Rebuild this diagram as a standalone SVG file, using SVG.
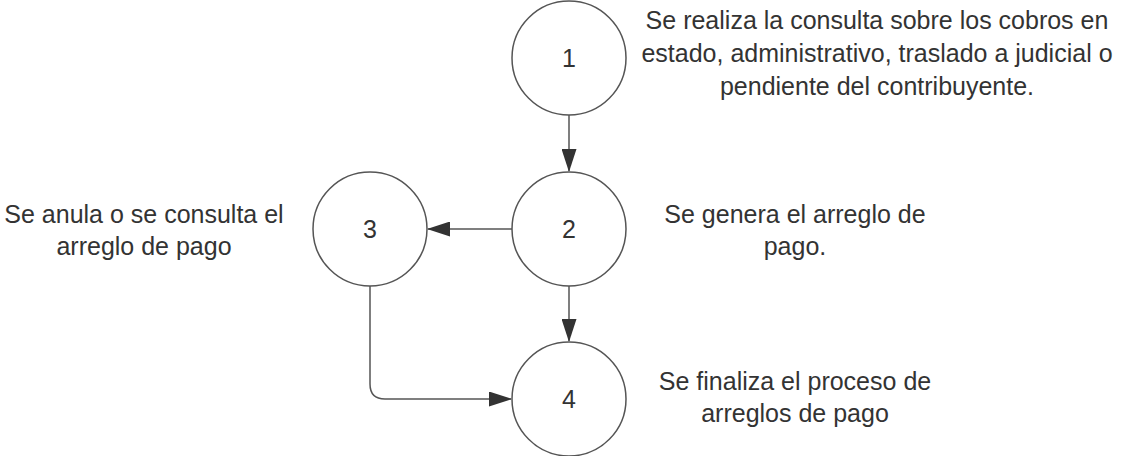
<svg xmlns="http://www.w3.org/2000/svg" width="1122" height="456" viewBox="0 0 1122 456">
<style>
.node{fill:#fff;stroke:#555;stroke-width:1.5}
.num{font-family:"Liberation Sans",Arial,sans-serif;font-size:25px;fill:#333;text-anchor:middle}
.lbl{font-family:"Liberation Sans",Arial,sans-serif;font-size:25px;fill:#333;text-anchor:middle}
.edge{fill:none;stroke:#555;stroke-width:1.5}
</style>
<defs>
<marker id="arr" markerWidth="23" markerHeight="15" refX="22" refY="7.5" orient="auto" markerUnits="userSpaceOnUse">
<path d="M0,0 L23,7.5 L0,15 Z" fill="#333"/>
</marker>
</defs>
<g id="connectors">
<path class="edge" d="M569,115 L569,171" marker-end="url(#arr)"/>
<path class="edge" d="M512,229 L428,229" marker-end="url(#arr)"/>
<path class="edge" d="M569,286 L569,341" marker-end="url(#arr)"/>
<path class="edge" d="M370,286 L370,384 Q370,399 385,399 L511,399" marker-end="url(#arr)"/>
</g>
<g id="node1">
<circle class="node" cx="569" cy="58" r="57"/>
<text class="num" x="569" y="67">1</text>
</g>
<g id="node2">
<circle class="node" cx="569" cy="229" r="57"/>
<text class="num" x="569" y="238">2</text>
</g>
<g id="node3">
<circle class="node" cx="370" cy="229" r="57"/>
<text class="num" x="370" y="238">3</text>
</g>
<g id="node4">
<circle class="node" cx="569" cy="399" r="57"/>
<text class="num" x="569" y="408">4</text>
</g>
<g id="label1">
<text class="lbl" x="877" y="29">Se realiza la consulta sobre los cobros en</text>
<text class="lbl" x="877" y="62">estado, administrativo, traslado a judicial o</text>
<text class="lbl" x="877" y="95">pendiente del contribuyente.</text>
</g>
<g id="label2">
<text class="lbl" x="795" y="223">Se genera el arreglo de</text>
<text class="lbl" x="795" y="255">pago.</text>
</g>
<g id="label3">
<text class="lbl" x="144" y="223">Se anula o se consulta el</text>
<text class="lbl" x="144" y="255">arreglo de pago</text>
</g>
<g id="label4">
<text class="lbl" x="795" y="390">Se finaliza el proceso de</text>
<text class="lbl" x="795" y="422">arreglos de pago</text>
</g>
</svg>
